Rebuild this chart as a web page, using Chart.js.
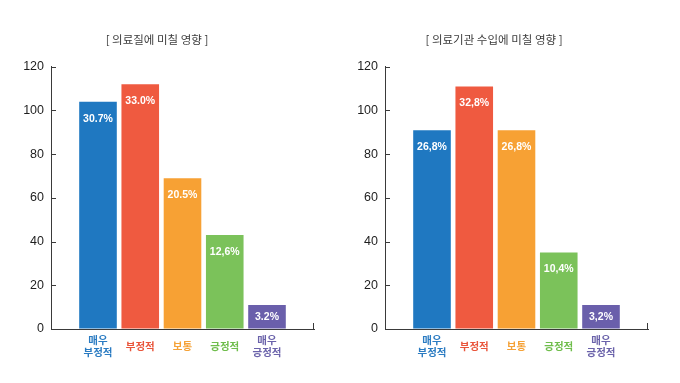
<!DOCTYPE html>
<html><head><meta charset="utf-8">
<script src="https://cdn.jsdelivr.net/npm/chart.js@4"></script>
<style>
html,body{margin:0;padding:0;background:#fff;}
#wrap{position:relative;width:680px;height:383px;overflow:hidden;background:#fff;}
canvas{position:absolute;top:0;}
</style></head><body>
<div id="wrap">
<canvas id="c1" width="320" height="383" style="left:0px"></canvas>
<canvas id="c2" width="340" height="383" style="left:340px"></canvas>
</div>
<script>
const categories = ['매우 부정적', '부정적', '보통', '긍정적', '매우 긍정적'];
const qualityValues = [104, 112, 69, 43, 11];
const qualityLabels = ['30.7%', '33.0%', '20.5%', '12,6%', '3.2%'];
const revenueValues = [91, 111, 91, 35, 11];
const revenueLabels = ['26,8%', '32,8%', '26,8%', '10,4%', '3,2%'];
const yTicks = [0, 20, 40, 60, 80, 100, 120];
const titles = ['[ 의료질에 미칠 영향 ]', '[ 의료기관 수입에 미칠 영향 ]'];
const barColors = ['#1f78c1', '#ef5a40', '#f7a134', '#7bc25a', '#6a5fab'];
const labelColors = ['#2a7bc2', '#e9553b', '#f5a238', '#6fbd4c', '#6a62aa'];

const AXIS = '#3a3a3a';
const LATIN = '"Liberation Sans", Arial, sans-serif';
const KR = '"Noto Sans CJK KR", "Noto Sans", sans-serif';

function makeChart(id, values, texts, title, yWidth, padRight) {
  const barText = {
    id: 'barText',
    afterDatasetsDraw(chart) {
      const ctx = chart.ctx;
      const meta = chart.getDatasetMeta(0);
      ctx.save();
      ctx.fillStyle = '#ffffff';
      ctx.font = 'bold 10.5px ' + LATIN;
      ctx.textAlign = 'center';
      ctx.textBaseline = 'middle';
      meta.data.forEach((bar, i) => {
        const h = bar.base - bar.y;
        const off = Math.min(17, h / 2);
        ctx.fillText(texts[i], bar.x, bar.y + off);
      });
      ctx.restore();
    }
  };
  const axisDecor = {
    id: 'axisDecor',
    afterDraw(chart) {
      const {ctx, chartArea: a, scales: {y}} = chart;
      ctx.save();
      ctx.strokeStyle = AXIS;
      ctx.lineWidth = 1;
      ctx.beginPath();
      y.ticks.forEach(t => {
        const py = Math.round(y.getPixelForValue(t.value)) + 0.5;
        ctx.moveTo(a.left, py);
        ctx.lineTo(a.left + 5, py);
      });
      ctx.moveTo(a.right - 0.5, a.bottom);
      ctx.lineTo(a.right - 0.5, a.bottom - 6);
      ctx.stroke();
      ctx.restore();
    }
  };
  const half = 263 / 42.25 / 2;
  return new Chart(document.getElementById(id), {
    type: 'bar',
    data: {
      datasets: [{
        data: values.map((v, i) => ({x: i + 1, y: v})),
        backgroundColor: barColors,
        borderWidth: 0,
        categoryPercentage: 1,
        barPercentage: 0.89
      }]
    },
    options: {
      responsive: false,
      animation: false,
      devicePixelRatio: 1,
      layout: {padding: {left: 0, right: padRight, top: 0, bottom: 0}},
      plugins: {
        legend: {display: false},
        tooltip: {enabled: false},
        title: {
          display: true,
          text: title,
          color: '#3c3c3c',
          font: {family: KR, size: 11.5, weight: 'normal', lineHeight: 1.2},
          padding: {top: 33, bottom: 20}
        }
      },
      scales: {
        x: {
          type: 'linear',
          offset: false,
          min: 3 - half,
          max: 3 + half,
          grid: {display: true, offset: false, drawOnChartArea: false, drawTicks: false, color: 'rgba(0,0,0,0)'},
          border: {display: true, color: AXIS, width: 1},
          afterBuildTicks: s => { s.ticks = categories.map((c, i) => ({value: i + 1})); },
          afterFit: s => { s.height = 54; },
          ticks: {
            autoSkip: false,
            maxRotation: 0,
            padding: 11,
            crossAlign: 'center',
            font: {family: KR, size: 10.5, weight: 'bold', lineHeight: 1.12},
            color: c => labelColors[(c.tick ? c.tick.value : c.index + 1) - 1] || '#333',
            callback: v => {
              const lbl = categories[Math.round(v) - 1];
              return lbl ? lbl.split(' ') : '';
            }
          }
        },
        y: {
          min: 0,
          max: 120,
          grid: {display: true, drawOnChartArea: false, drawTicks: false, color: 'rgba(0,0,0,0)'},
          border: {display: true, color: AXIS, width: 1},
          afterBuildTicks: s => { s.ticks = yTicks.map(v => ({value: v})); },
          afterFit: s => { s.width = yWidth; },
          ticks: {
            padding: 7,
            color: '#1e1e1e',
            font: {family: LATIN, size: 12.5}
          }
        }
      }
    },
    plugins: [barText, axisDecor]
  });
}

makeChart('c1', qualityValues, qualityLabels, titles[0], 51, 6);
makeChart('c2', revenueValues, revenueLabels, titles[1], 45, 32);
</script>
</body></html>
